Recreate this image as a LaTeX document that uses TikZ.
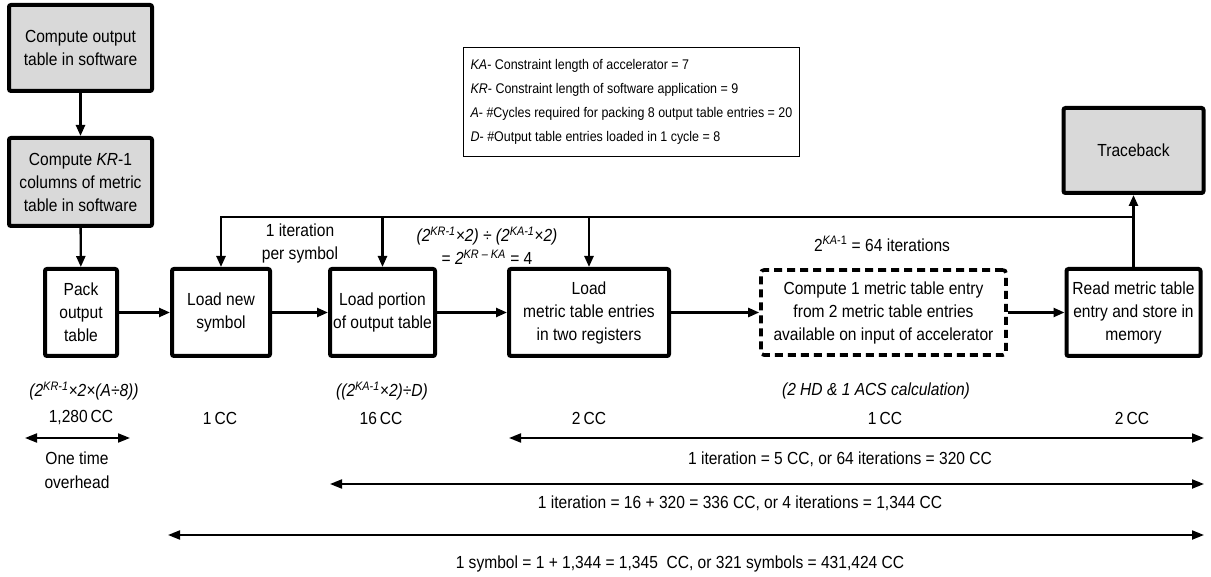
\documentclass[tikz,border=0pt]{standalone}
\usepackage{fontspec}
\setmainfont[FakeStretch=0.89]{Liberation Sans}
\usetikzlibrary{arrows.meta}
\newcommand\supx[1]{\textsuperscript{#1}}
\newcommand\mainfs{\fontsize{17.5}{23}\selectfont}
\newcommand\legfs{\fontsize{14}{24}\selectfont}
\begin{document}
\begin{tikzpicture}[x=1pt,y=-1pt,
  box/.style={draw, line width=4pt, rounded corners=2pt, align=center, font=\mainfs, inner sep=0pt},
  gbox/.style={box, fill=gray!30},
  dbox/.style={box, dash pattern=on 8pt off 5pt, line width=3.6pt, rounded corners=3pt},
  conn/.style={line width=2.4pt, -{Triangle[length=11pt,width=9pt]}},
  dimarr/.style={line width=2pt, {Triangle[length=12pt,width=9pt]}-{Triangle[length=12pt,width=9pt]}},
  lbl/.style={font=\mainfs, align=center, inner sep=0pt}]
\fill[white] (0,0) rectangle (1211,577);
\useasboundingbox (0,0) rectangle (1211,577);

% boxes
\node[gbox, minimum width=143pt, minimum height=86pt] (cot) at (80.5,48) {Compute output\\table in software};
\node[gbox, minimum width=143pt, minimum height=88pt] (ckr) at (80.5,182) {Compute \textit{KR}-1\\columns of metric\\table in software};
\node[box, minimum width=72pt, minimum height=87pt] (pack) at (81,312.5) {Pack\\output\\table};
\node[box, minimum width=98pt, minimum height=87pt] (lns) at (221,312.5) {Load new\\symbol};
\node[box, minimum width=105pt, minimum height=87pt] (lpo) at (382.5,312.5) {Load portion\\of output table};
\node[box, minimum width=160pt, minimum height=87pt] (lme) at (589,312.5) {Load\\metric table entries\\in two registers};
\node[dbox, minimum width=245pt, minimum height=85pt] (cmp) at (883.5,312.5) {Compute 1 metric table entry\\from 2 metric table entries\\available on input of accelerator};
\node[box, minimum width=134pt, minimum height=87pt] (read) at (1133.5,312.5) {Read metric table\\entry and store in\\memory};
\node[gbox, minimum width=140pt, minimum height=85pt] (trace) at (1133.5,150.5) {Traceback};

% legend
\node[draw, line width=1.3pt, anchor=north west, inner xsep=7pt, inner ysep=0pt,
      minimum height=109pt, align=left, font=\legfs] (leg) at (463,47)
  {\textit{KA}- Constraint length of accelerator = 7\\
   \textit{KR}- Constraint length of software application = 9\\
   \textit{A}- \#Cycles required for packing 8 output table entries = 20\\
   \textit{D}- \#Output table entries loaded in 1 cycle = 8};

% connectors
\draw[conn] (cot) -- (ckr);
\draw[conn] (ckr) -- (pack);
\draw[conn] (pack) -- (lns);
\draw[conn] (lns) -- (lpo);
\draw[conn] (lpo) -- (lme);
\draw[conn] (lme) -- (cmp);
\draw[conn] (cmp) -- (read);
\draw[conn] (read.north) -- (trace.south);
\coordinate (fb) at (1133.5,217);
\draw[conn] (fb) -| (lns.north);
\draw[conn] (lpo.north |- fb) -- (lpo.north);
\draw[conn] (lme.north |- fb) -- (lme.north);

% top labels
\node[lbl] (iter) at (300,243) {1 iteration\\per symbol};
\node[lbl] (frm) at (487,246) {\textit{(2\supx{KR-1}×2) ÷ (2\supx{KA-1}×2)}\\= \textit{2\supx{KR – KA}} = 4};
\node[lbl] (ka) at (882,244) {2\supx{\textit{KA}-1} = 64 iterations};

% bottom formulas
\node[lbl] (f1) at (84,391) {\textit{(2\supx{KR-1}×2×(A÷8))}};
\node[lbl] (f2) at (382,391) {\textit{((2\supx{KA-1}×2)÷D)}};
\node[lbl] (f3) at (876,391) {\textit{(2 HD \& 1 ACS calculation)}};

% CC row
\node[lbl] (c1) at (81,418) {1,280\,CC};
\node[lbl] (c2) at (220,418) {1\,CC};
\node[lbl] (c3) at (381,418) {16\,CC};
\node[lbl] (c4) at (589,418) {2\,CC};
\node[lbl] (c5) at (885,418) {1\,CC};
\node[lbl] (c6) at (1132,418) {2\,CC};

% dimension arrows
\coordinate (a1l) at (25,438);  \coordinate (a1r) at (130,438);
\coordinate (a2l) at (509,438); \coordinate (a2r) at (1204,438);
\coordinate (a3l) at (330,484); \coordinate (a3r) at (1204,484);
\coordinate (a4l) at (168,535); \coordinate (a4r) at (1204,535);
\draw[dimarr] (a1l) -- (a1r);
\draw[dimarr] (a2l) -- (a2r);
\draw[dimarr] (a3l) -- (a3r);
\draw[dimarr] (a4l) -- (a4r);

\node[lbl, font=\fontsize{17.5}{24.5}\selectfont] (oto) at (77,470) {One time\\overhead};
\node[lbl] (t2) at (840,459) {1 iteration = 5 CC, or 64 iterations = 320 CC};
\node[lbl] (t3) at (740,503) {1 iteration = 16 + 320 = 336 CC, or 4 iterations = 1,344 CC};
\node[lbl] (t4) at (680,564) {1 symbol = 1 + 1,344 = 1,345\ \ CC, or 321 symbols = 431,424 CC};
\end{tikzpicture}
\end{document}
